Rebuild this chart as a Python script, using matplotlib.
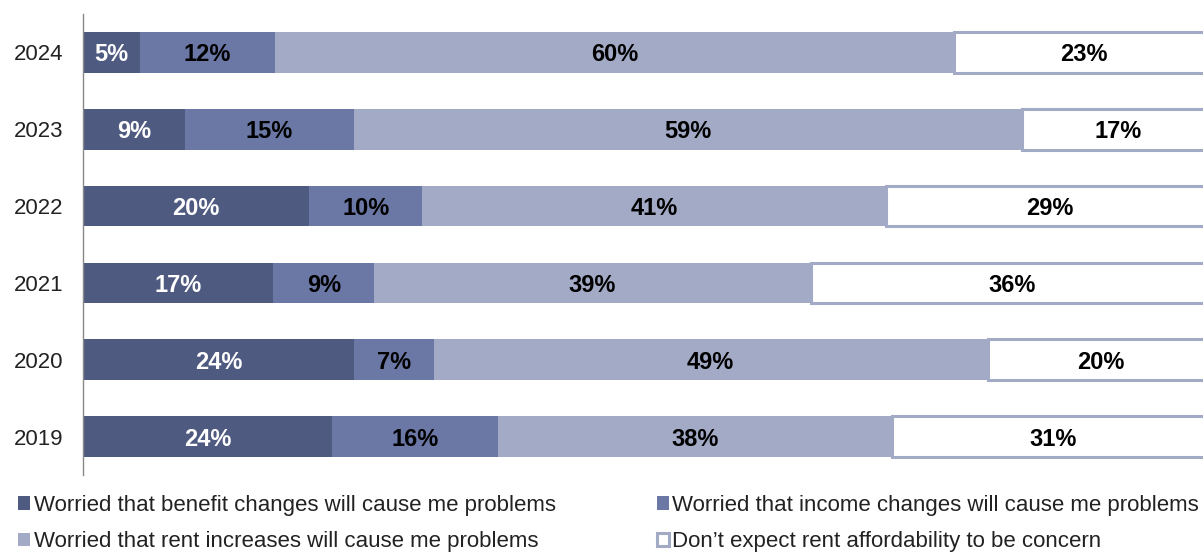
import matplotlib.pyplot as plt
import numpy as np

plt.rcParams['font.family'] = ['Liberation Sans', 'DejaVu Sans']

years = ['2024', '2023', '2022', '2021', '2020', '2019']
benefit = [5, 9, 20, 17, 24, 24]
income = [12, 15, 10, 9, 7, 16]
rent = [60, 59, 41, 39, 49, 38]
no_concern = [23, 17, 29, 36, 20, 31]

series_names = ['Worried that benefit changes will cause me problems',
                'Worried that income changes will cause me problems',
                'Worried that rent increases will cause me problems',
                'Don\u2019t expect rent affordability to be concern']
colors = ['#4f5a80', '#6b77a5', '#a3aac6', '#ffffff']
text_colors = ['white', 'black', 'black', 'black']

W, H = 1203, 554
fig = plt.figure(figsize=(W / 100, H / 100), dpi=100)
# chart is cropped on the right: the 100% end sits past the figure edge
ax = fig.add_axes([83 / W, 79 / H, 1131 / W, 461 / H])

data = np.array([benefit, income, rent, no_concern], float)
totals = data.sum(axis=0)
shares = data / totals * 100
y = np.arange(len(years))[::-1]

left = np.zeros(len(years))
bars = []
for i in range(4):
    if i == 3:
        b = ax.barh(y, shares[i], left=left, height=0.53, color=colors[i],
                    edgecolor=colors[2], linewidth=2.2)
    else:
        b = ax.barh(y, shares[i], left=left, height=0.53, color=colors[i],
                    linewidth=0)
    bars.append(b)
    for yy, l, w, v in zip(y, left, shares[i], data[i]):
        ax.text(l + w / 2, yy, '%d%%' % v, ha='center', va='center_baseline',
                fontsize=17, fontweight='bold', color=text_colors[i])
    left = left + shares[i]

ax.set_xlim(0, 100)
ax.set_ylim(-0.5, 5.5)
ax.set_yticks(y)
ax.set_yticklabels(years, fontsize=16, color='#222222')
ax.tick_params(axis='y', length=0, pad=14)
ax.set_xticks([])
for s in ['top', 'right', 'bottom']:
    ax.spines[s].set_visible(False)
ax.spines['left'].set_color('#888888')
ax.spines['left'].set_linewidth(1)

order = [0, 2, 1, 3]
leg = fig.legend([bars[k] for k in order], [series_names[k] for k in order],
                 ncol=2, loc='upper left', bbox_to_anchor=(18 / W, 1 - 495 / H),
                 frameon=False, fontsize=16, handlelength=0.55,
                 handleheight=0.55, handletextpad=0.15, columnspacing=4.55,
                 labelspacing=0.68, borderpad=0, borderaxespad=0)
for t in leg.get_texts():
    t.set_color('#222222')

fig.savefig('out.png', dpi=100)
